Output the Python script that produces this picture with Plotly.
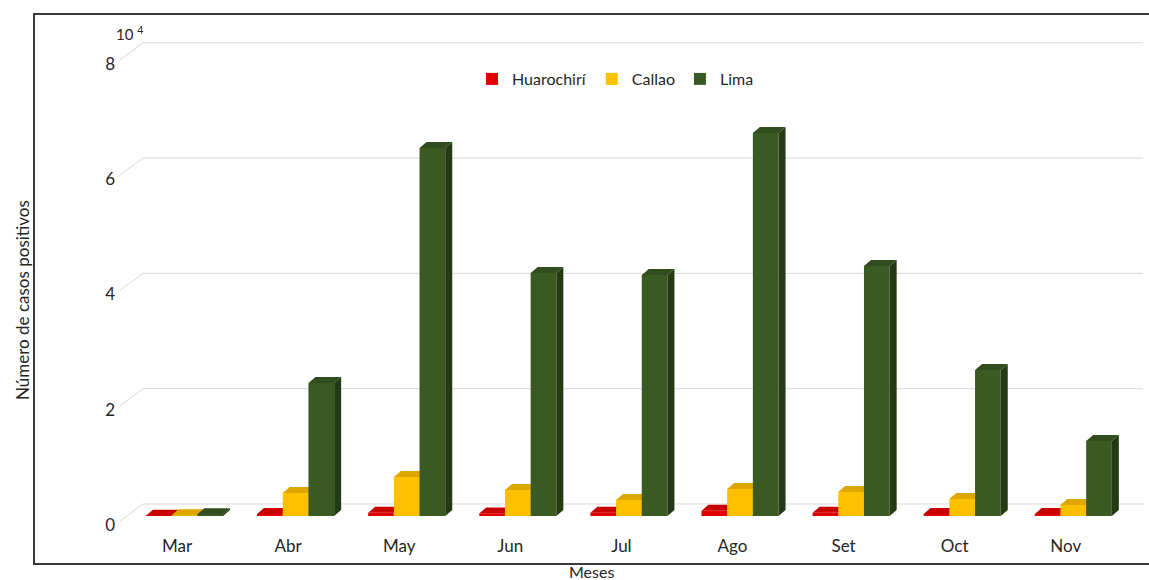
import plotly.graph_objects as go

# ---------------- data ----------------
months = ["Mar", "Abr", "May", "Jun", "Jul", "Ago", "Set", "Oct", "Nov"]
huarochiri = [60, 350, 550, 450, 550, 900, 550, 350, 350]
callao = [150, 3990, 6770, 4510, 2780, 4680, 4160, 2950, 1910]
lima = [300, 23070, 63830, 42150, 41800, 66430, 43370, 25330, 13010]
y_ticks = [0, 20000, 40000, 60000, 80000]
y_tick_labels = ["0", "2", "4", "6", "8"]
series_names = ["Huarochirí", "Callao", "Lima"]

# ---------------- styles / geometry ----------------
front_colors = ["#E00000", "#FFC000", "#3A5A24"]
top_colors = ["#C80000", "#DEA600", "#314D1E"]
side_colors = ["#A00000", "#C99500", "#243A15"]

W, H = 1149, 580
L, B = 116, 46
plot_w, plot_h = W - L, H - B
cat_px = 111.1                       # px per category
first_label_px = 177                 # px position of first category label
k = 115.3 / 20000                    # px per case
x_lo = -(first_label_px - L) / cat_px
x_hi = x_lo + plot_w / cat_px
label_base_px = 525                  # pixel row of the "0" label
front_base_px = 516                  # pixel row of bar bases
back_base_px = 504                   # pixel row of back gridline for 0
lab_range = [-(plot_h - label_base_px) / k, label_base_px / k]
front_range = [-(plot_h - front_base_px) / k, front_base_px / k]

shift = 7.5 / cat_px
w = 25.7 / cat_px
dx = 7 / cat_px
dyv = 6 / k

def px_to_x(px):
    return (px - first_label_px) / cat_px

def px_to_paper_x(px):
    return (px - L) / plot_w

def px_to_paper_y(py):
    return (plot_h - py) / plot_h

fig = go.Figure()

# back-wall gridlines with floor diagonals (on label axis)
gx, gy = [], []
back_off = (label_base_px - back_base_px) / k
diag_off = (label_base_px - 521) / k
for v in y_ticks:
    gx += [px_to_x(120), px_to_x(143), px_to_x(1143), None]
    gy += [v + diag_off, v + back_off, v + back_off, None]
fig.add_trace(go.Scatter(x=gx, y=gy, mode="lines", line=dict(color="#D9D9D9", width=1),
                         hoverinfo="skip", showlegend=False, xaxis="x", yaxis="y"))

values = [huarochiri, callao, lima]
for j, vals in enumerate(values):
    ya = "y%d" % (j + 2)
    centers = [i + shift + (j - 1) * w for i in range(len(months))]
    fig.add_trace(go.Bar(x=centers, y=vals, width=w, name=series_names[j],
                         marker=dict(color=front_colors[j], line=dict(width=0)),
                         xaxis="x", yaxis=ya, showlegend=True))
    tx, ty, sx, sy = [], [], [], []
    for c, v in zip(centers, vals):
        xa, xb = c - w / 2, c + w / 2
        tx += [xa, xa + dx, xb + dx, xb, xa, None]
        ty += [v, v + dyv, v + dyv, v, v, None]
        sx += [xb, xb + dx, xb + dx, xb, xb, None]
        sy += [0, dyv, v + dyv, v, 0, None]
    fig.add_trace(go.Scatter(x=sx, y=sy, mode="lines", fill="toself", fillcolor=side_colors[j],
                             line=dict(width=0, color=side_colors[j]), hoverinfo="skip",
                             showlegend=False, xaxis="x", yaxis=ya))
    fig.add_trace(go.Scatter(x=tx, y=ty, mode="lines", fill="toself", fillcolor=top_colors[j],
                             line=dict(width=0, color=top_colors[j]), hoverinfo="skip",
                             showlegend=False, xaxis="x", yaxis=ya))

font_family = "Lato, 'Open Sans', sans-serif"
txt = "#262626"
hidden_axis = dict(range=front_range, visible=False, overlaying="y", anchor="x",
                   showgrid=False, zeroline=False, fixedrange=True)

fig.update_layout(
    width=W, height=H,
    margin=dict(l=L, r=0, t=0, b=B, autoexpand=False),
    paper_bgcolor="white", plot_bgcolor="white",
    font=dict(family=font_family, size=16, color=txt),
    barmode="overlay",
    xaxis=dict(range=[x_lo, x_hi], tickvals=list(range(len(months))), ticktext=months,
               showgrid=False, zeroline=False, showline=False, ticks="",
               tickfont=dict(size=17, color=txt), fixedrange=True),
    yaxis=dict(range=lab_range, tickvals=y_ticks, ticktext=y_tick_labels,
               showgrid=False, zeroline=False, showline=False, ticks="",
               tickfont=dict(size=17, color=txt), fixedrange=True),
    yaxis2=hidden_axis, yaxis3=hidden_axis, yaxis4=hidden_axis,
    legend=dict(orientation="h", x=px_to_paper_x(472), y=px_to_paper_y(62),
                xanchor="left", yanchor="top", bgcolor="rgba(0,0,0,0)", itemwidth=30,
                font=dict(size=16, color=txt), traceorder="normal"),
    shapes=[dict(type="rect", xref="paper", yref="paper",
                 x0=px_to_paper_x(34), x1=px_to_paper_x(1165),
                 y0=px_to_paper_y(564), y1=px_to_paper_y(14),
                 line=dict(color="#3A3A3A", width=2), fillcolor="rgba(0,0,0,0)", layer="above")],
    annotations=[
        dict(text="10 <sup>4</sup>", xref="paper", yref="paper",
             x=px_to_paper_x(129), y=px_to_paper_y(33), xanchor="center", yanchor="middle",
             showarrow=False, font=dict(size=15, color=txt)),
        dict(text="Meses", xref="paper", yref="paper",
             x=px_to_paper_x(591), y=px_to_paper_y(571), xanchor="center", yanchor="middle",
             showarrow=False, font=dict(size=16, color=txt)),
        dict(text="Número de casos positivos", xref="paper", yref="paper", textangle=-90,
             x=px_to_paper_x(22), y=px_to_paper_y(300), xanchor="center", yanchor="middle",
             showarrow=False, font=dict(size=17, color=txt)),
    ],
)

fig.write_html("out.html")
